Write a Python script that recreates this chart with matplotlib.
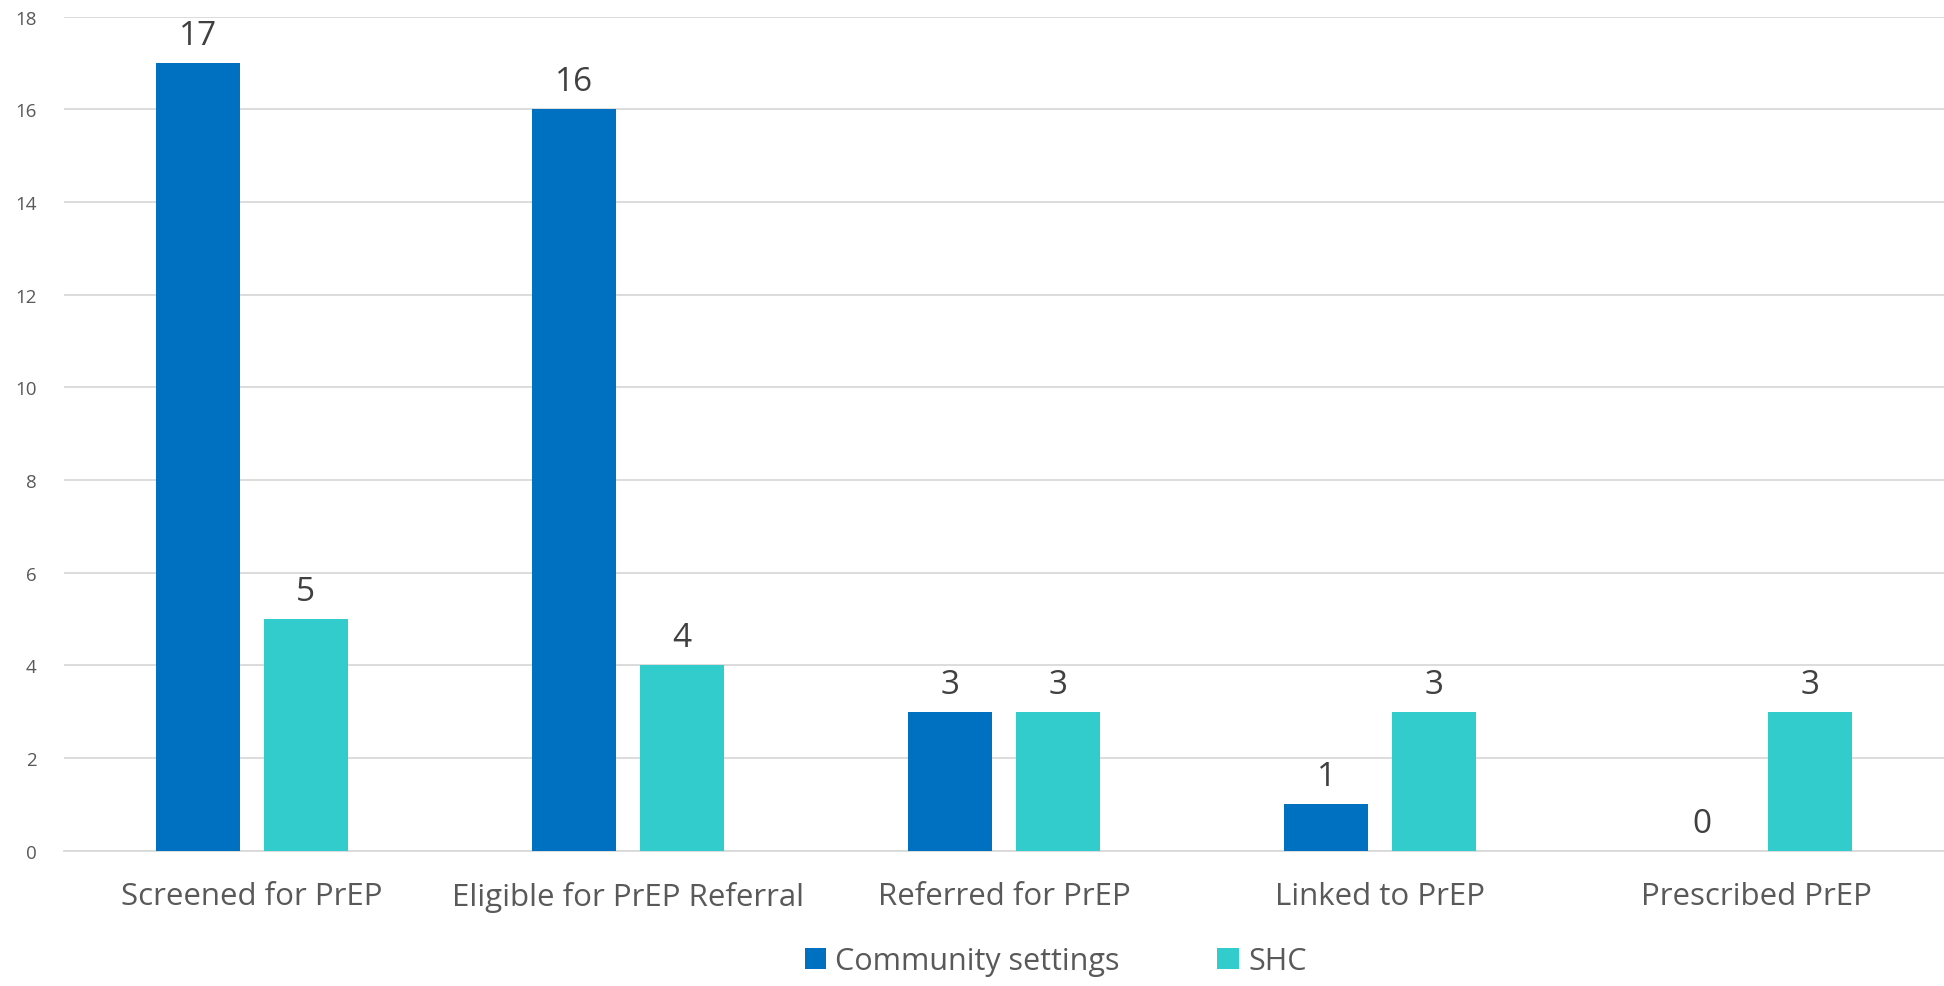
import matplotlib
matplotlib.use('Agg')
import matplotlib.pyplot as plt
import numpy as np

matplotlib.rcParams['font.family'] = ['Open Sans', 'DejaVu Sans']
matplotlib.rcParams['axes.unicode_minus'] = False

categories = ['Screened for PrEP', 'Eligible for PrEP Referral', 'Referred for PrEP',
              'Linked to PrEP', 'Prescribed PrEP']
community = [17, 16, 3, 1, 0]
shc = [5, 4, 3, 3, 3]
yticks = [0, 2, 4, 6, 8, 10, 12, 14, 16, 18]

blue = '#0070C0'
teal = '#33CCCC'
grey_text = '#595959'

fig = plt.figure(figsize=(19.44, 9.87), dpi=100)
ax = fig.add_axes([0.033, 0.137, 0.967, 0.845])

x = np.arange(len(categories))
w = 0.223
off = 0.143
b1 = ax.bar(x - off, community, w, color=blue, label='Community settings', zorder=3)
b2 = ax.bar(x + off, shc, w, color=teal, label='SHC', zorder=3)

for bars in (b1, b2):
    for r in bars:
        ax.annotate(f'{int(r.get_height())}', (r.get_x() + r.get_width() / 2, r.get_height()),
                    xytext=(0, 8), textcoords='offset points', ha='center', va='bottom',
                    fontsize=24, color='#404040')

ax.set_xlim(-0.5, len(categories) - 0.5)
ax.set_ylim(0, 18)
ax.set_yticks(yticks)
ax.set_xticks(x)
ax.set_xticklabels(categories, fontsize=22.5, color=grey_text)
ax.tick_params(axis='y', labelsize=13.5, colors=grey_text, length=0, pad=20)
ax.tick_params(axis='x', length=0, pad=22)
ax.grid(axis='y', color='#D9D9D9', linewidth=1.3, zorder=0)
for s in ['top', 'right', 'left']:
    ax.spines[s].set_visible(False)
ax.spines['bottom'].set_color('#D9D9D9')
ax.spines['bottom'].set_linewidth(1.3)

fig.legend(handles=[b1, b2], loc='lower center', bbox_to_anchor=(0.543, -0.018), ncol=2,
           frameon=False, fontsize=22, handlelength=0.7, handleheight=0.7, handletextpad=0.3,
           columnspacing=3.2, labelcolor=grey_text)

plt.savefig('out.png', dpi=100)
